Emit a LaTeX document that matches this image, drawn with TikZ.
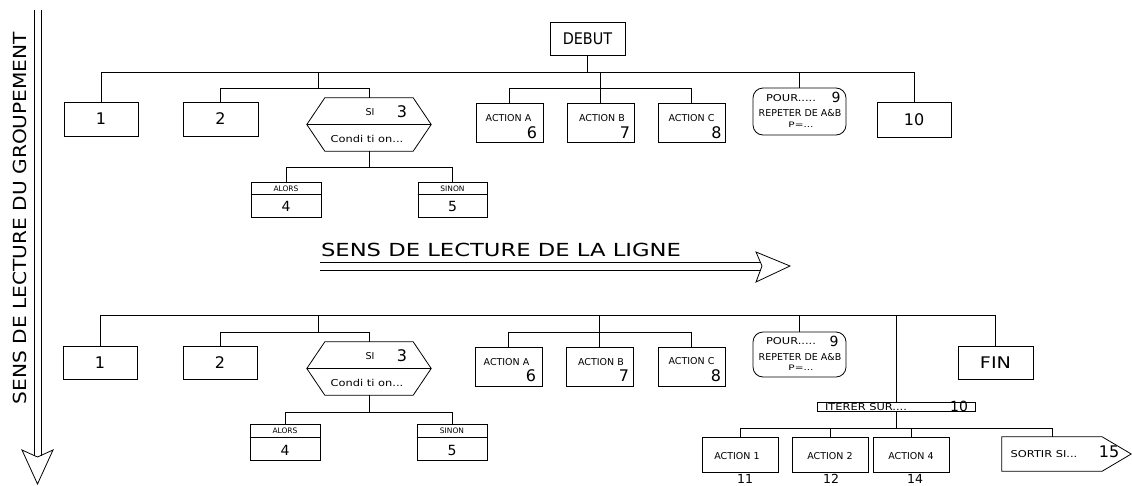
\documentclass[tikz,border=0pt]{standalone}
\usepackage{graphicx}
\usepackage{fontspec}
\setmainfont{DejaVu Sans}
\newcommand{\hsc}[2]{\scalebox{#1}[1]{#2}}
\tikzset{
  wire/.style={line width=0.8pt},
  box/.style={draw, rectangle, inner sep=0pt, line width=0.8pt},
  helper/.style={rectangle, inner sep=0pt},
  lbl/.style={inner sep=0pt},
  fB/.style={font=\fontsize{18}{18}\selectfont},
  fL/.style={font=\fontsize{16}{16}\selectfont},
  fM/.style={font=\fontsize{14}{14}\selectfont},
  fN/.style={font=\fontsize{12.5}{13}\selectfont},
  fS/.style={font=\fontsize{9.5}{10}\selectfont},
  fXS/.style={font=\fontsize{7.5}{8}\selectfont},
}
\begin{document}
\begin{tikzpicture}[x=1pt,y=-1pt]
\useasboundingbox (0,0) rectangle (1132,485);

% ---------- vertical reading arrow ----------
\node[lbl,fB,rotate=90] (vtext) at (20,218) {\hsc{1.12}{SENS DE LECTURE DU GROUPEMENT}};
\coordinate (vl1) at (34,10);
\coordinate (vl2) at (41,10);
\coordinate (vh1) at (22,450);
\coordinate (vh2) at (53,450);
\coordinate (vtip) at (37.5,484);
\coordinate (vnotch) at (37.5,457);
\draw[wire] (vl1) -- (34,455.5);
\draw[wire] (vl2) -- (41,455.5);
\draw[wire] (vh1) -- (vtip) -- (vh2) -- (vnotch) -- cycle;

% ---------- horizontal reading arrow ----------
\node[lbl,fB] (htext) at (501,250) {\hsc{1.26}{SENS DE LECTURE DE LA LIGNE}};
\coordinate (hl1) at (320,262);
\coordinate (hl2) at (320,270);
\coordinate (hh1) at (756,252);
\coordinate (hh2) at (756,282);
\coordinate (htip) at (790,266);
\coordinate (hnotch) at (762,266);
\draw[wire] (hl1) -- (760.3,262);
\draw[wire] (hl2) -- (760.5,270);
\draw[wire] (hh1) -- (htip) -- (hh2) -- (hnotch) -- cycle;

% =================== TOP TREE ===================
\node[box,fL,minimum width=75pt,minimum height=33pt] (debut) at (587.5,38.5) {\hsc{0.9}{DEBUT}};
\node[box,fL,minimum width=74pt,minimum height=34pt] (t1) at (101,119) {1};
\node[box,fL,minimum width=75pt,minimum height=34pt] (t2) at (220.5,119) {2};
% hexagon 3
\node[helper,minimum width=88pt,minimum height=53pt] (thex) at (369,124.5) {};
\draw[wire] (thex.north west) -- (thex.north east) -- ([xshift=18pt]thex.east) -- (thex.south east) -- (thex.south west) -- ([xshift=-18pt]thex.west) -- cycle;
\draw[wire] ([xshift=-18pt]thex.west) -- ([xshift=18pt]thex.east);
\node[lbl,fS] (thexsi) at (370,112) {SI};
\node[lbl,fL] (thexn) at (402,112) {3};
\node[lbl,fS] (thexc) at (367,139) {\hsc{1.2}{Condi ti on...}};
% alors / sinon
\node[box,minimum width=70pt,minimum height=35pt] (talors) at (286,199.5) {};
\draw[wire] ([yshift=-13pt]talors.north west) -- ([yshift=-13pt]talors.north east);
\node[lbl,fXS] (talorst) at (286,188.5) {ALORS};
\node[lbl,fM] (talorsn) at (286,206.5) {4};
\node[box,minimum width=69pt,minimum height=35pt] (tsinon) at (452.5,199.5) {};
\draw[wire] ([yshift=-13pt]tsinon.north west) -- ([yshift=-13pt]tsinon.north east);
\node[lbl,fXS] (tsinont) at (452.5,188.5) {SINON};
\node[lbl,fM] (tsinonn) at (452.5,206.5) {5};
% actions
\node[box,minimum width=67pt,minimum height=39pt] (ta) at (509.5,122.5) {};
\node[lbl,fS] (tat) at (508.5,118.5) {ACTION A};
\node[lbl,fL] (tan) at (532,132.5) {6};
\node[box,minimum width=67pt,minimum height=39pt] (tb) at (600.5,122.5) {};
\node[lbl,fS] (tbt) at (602,118.5) {ACTION B};
\node[lbl,fL] (tbn) at (625,132.5) {7};
\node[box,minimum width=67pt,minimum height=39pt] (tc) at (691.5,122.5) {};
\node[lbl,fS] (tct) at (691.5,118) {ACTION C};
\node[lbl,fL] (tcn) at (716.5,132.5) {8};
% pour
\node[box,rounded corners=10pt,minimum width=93pt,minimum height=47pt] (tpour) at (799.5,111.5) {};
\node[lbl,fS] (tpourt) at (791,98) {\hsc{1.2}{POUR.....}};
\node[lbl,fM] (tpourn) at (836,97) {9};
\node[lbl,fS] (tpourr) at (800,113.5) {REPETER DE A\&B};
\node[lbl,fXS] (tpourp) at (801,124.5) {\hsc{1.4}{P=...}};
% 10
\node[box,fL,minimum width=74pt,minimum height=35pt] (t10) at (914,119.5) {10};

% top connectors
\coordinate (tbus) at (0,72);
\coordinate (tj1) at (318,88);
\coordinate (tj2) at (0,167.5);
\draw[wire] (t1.north) |- (t10.north |- tbus) -- (t10.north);
\draw[wire] (debut.south) -- (debut.south |- tbus);
\draw[wire] (tj1) -- (tj1 |- tbus);
\draw[wire] (t2.north) |- (thex.north |- tj1) -- (thex.north);
\draw[wire] (tb.north) -- (tb.north |- tbus);
\draw[wire] (ta.north) |- (tc.north |- tj1) -- (tc.north);
\draw[wire] (tpour.north) -- (tpour.north |- tbus);
\draw[wire] (thex.south) -- (thex.south |- tj2);
\draw[wire] (talors.north) |- (tsinon.north |- tj2) -- (tsinon.north);

% =================== BOTTOM TREE ===================
\node[box,fL,minimum width=74pt,minimum height=33pt] (b1) at (100,362.5) {1};
\node[box,fL,minimum width=74pt,minimum height=33pt] (b2) at (220,362.5) {2};
\node[helper,minimum width=88pt,minimum height=53pt] (bhex) at (369,368.5) {};
\draw[wire] (bhex.north west) -- (bhex.north east) -- ([xshift=18pt]bhex.east) -- (bhex.south east) -- (bhex.south west) -- ([xshift=-18pt]bhex.west) -- cycle;
\draw[wire] ([xshift=-18pt]bhex.west) -- ([xshift=18pt]bhex.east);
\node[lbl,fS] (bhexsi) at (370,356) {SI};
\node[lbl,fL] (bhexn) at (402,356) {3};
\node[lbl,fS] (bhexc) at (367,383) {\hsc{1.2}{Condi ti on...}};
\node[box,minimum width=70pt,minimum height=36pt] (balors) at (285,442) {};
\draw[wire] ([yshift=-14pt]balors.north west) -- ([yshift=-14pt]balors.north east);
\node[lbl,fXS] (balorst) at (285,431) {ALORS};
\node[lbl,fM] (balorsn) at (285,450) {4};
\node[box,minimum width=70pt,minimum height=36pt] (bsinon) at (452,442) {};
\draw[wire] ([yshift=-14pt]bsinon.north west) -- ([yshift=-14pt]bsinon.north east);
\node[lbl,fXS] (bsinont) at (452,431) {SINON};
\node[lbl,fM] (bsinonn) at (452,450) {5};
\node[box,minimum width=67pt,minimum height=39pt] (ba) at (508.5,366.5) {};
\node[lbl,fS] (bat) at (506.5,362) {ACTION A};
\node[lbl,fL] (ban) at (531,376) {6};
\node[box,minimum width=67pt,minimum height=39pt] (bb) at (599.5,366.5) {};
\node[lbl,fS] (bbt) at (601,362) {ACTION B};
\node[lbl,fL] (bbn) at (624,376) {7};
\node[box,minimum width=67pt,minimum height=39pt] (bc) at (691.5,366.5) {};
\node[lbl,fS] (bct) at (691.5,361.5) {ACTION C};
\node[lbl,fL] (bcn) at (716,376) {8};
\node[box,rounded corners=10pt,minimum width=93pt,minimum height=45pt] (bpour) at (799.5,354.5) {};
\node[lbl,fS] (bpourt) at (791,341) {\hsc{1.2}{POUR.....}};
\node[lbl,fM] (bpourn) at (834,341) {9};
\node[lbl,fS] (bpourr) at (800,357) {REPETER DE A\&B};
\node[lbl,fXS] (bpourp) at (801,368) {\hsc{1.4}{P=...}};
\node[box,fL,minimum width=75pt,minimum height=33pt] (bfin) at (995.5,362.5) {\hsc{1.2}{FIN}};
\node[box,minimum width=158pt,minimum height=9pt] (biter) at (896,406.5) {};
\node[lbl,fS] (bitert) at (866,407) {\hsc{1.2}{ITERER SUR....}};
\node[lbl,fM] (bitern) at (959,406) {10};
\node[box,minimum width=76pt,minimum height=35pt] (bact1) at (740,454.5) {};
\node[lbl,fS] (bact1t) at (737,456) {ACTION 1};
\node[lbl,fN] (bact1n) at (745,478.5) {11};
\node[box,minimum width=76pt,minimum height=35pt] (bact2) at (830,454.5) {};
\node[lbl,fS] (bact2t) at (830,456) {ACTION 2};
\node[lbl,fN] (bact2n) at (831,478.5) {12};
\node[box,minimum width=76pt,minimum height=35pt] (bact4) at (911,454.5) {};
\node[lbl,fS] (bact4t) at (911,456) {ACTION 4};
\node[lbl,fN] (bact4n) at (915,478.5) {14};
\node[helper,minimum width=100pt,minimum height=34pt] (bsortir) at (1052,454) {};
\draw[wire] (bsortir.north west) -- (bsortir.north east) -- ([xshift=29pt]bsortir.east) -- (bsortir.south east) -- (bsortir.south west) -- cycle;
\node[lbl,fS] (bsortirt) at (1044,454) {\hsc{1.2}{SORTIR SI...}};
\node[lbl,fL] (bsortirn) at (1109,452) {15};

% bottom connectors
\coordinate (bbus) at (0,315);
\coordinate (bj1) at (318,332);
\coordinate (bj2) at (0,412);
\coordinate (bj3) at (0,428);
\draw[wire] (b1.north) |- (bfin.north |- bbus) -- (bfin.north);
\draw[wire] (bj1) -- (bj1 |- bbus);
\draw[wire] (b2.north) |- (bhex.north |- bj1) -- (bhex.north);
\draw[wire] (bb.north) -- (bb.north |- bbus);
\draw[wire] (ba.north) |- (bc.north |- bj1) -- (bc.north);
\draw[wire] (bpour.north) -- (bpour.north |- bbus);
\draw[wire] (biter.north) -- (biter.north |- bbus);
\draw[wire] (bhex.south) -- (bhex.south |- bj2);
\draw[wire] (balors.north) |- (bsinon.north |- bj2) -- (bsinon.north);
\draw[wire] (biter.south) -- (biter.south |- bj3);
\draw[wire] (bact1.north) |- (bsortir.north |- bj3) -- (bsortir.north);
\draw[wire] (bact2.north) -- (bact2.north |- bj3);
\draw[wire] (bact4.north) -- (bact4.north |- bj3);
\end{tikzpicture}
\end{document}
